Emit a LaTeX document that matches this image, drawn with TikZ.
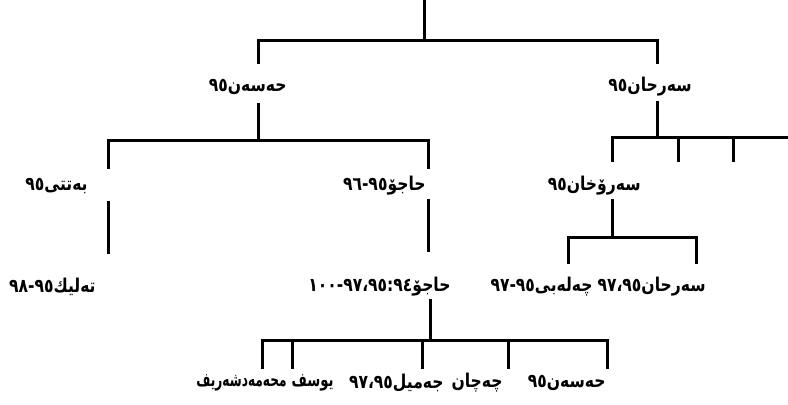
\documentclass[tikz,border=0pt]{standalone}
\usepackage{graphicx}
\usepackage{fontspec}
\TeXXeTstate=1
\newfontfamily\kfont[Script=Arabic,FakeStretch=0.82]{DejaVu Sans}
\newcommand\rl[1]{{\kfont\beginR #1\endR}}
\newcommand\nm[1]{\hbox{#1}}
\begin{document}
\begin{tikzpicture}[x=0.5pt,y=-0.5pt,
  tree/.style={line width=1.5pt, line cap=rect},
  lbl/.style={anchor=east, inner sep=0pt, font=\kfont\bfseries\fontsize{9.5}{11}\selectfont}]
\useasboundingbox (0,0) rectangle (788,404);
% labels
\node[lbl] (hasan)   at (287,87)  {\rl{حەسەن\nm{٩٥}}};
\node[lbl] (serhan)  at (692,87)  {\rl{سەرحان\nm{٩٥}}};
\node[lbl] (betti)   at (88,186)  {\rl{بەتتی\nm{٩٥}}};
\node[lbl] (hajo)    at (426,186) {\rl{حاجۆ\nm{٩٥}\nm{-}\nm{٩٦}}};
\node[lbl] (serokh)  at (641,186) {\rl{سەرۆخان\nm{٩٥}}};
\node[lbl] (telik)   at (96,287)  {\rl{تەلیك\nm{٩٥}\nm{-}\nm{٩٨}}};
\node[lbl] (hajob)   at (451,287) {\rl{حاجۆ\nm{٩٤}\nm{:}\nm{٩٥}\nm{،}\nm{٩٧}\nm{-}\nm{١٠٠}}};
\node[lbl] (celebi)  at (593,287) {\rl{چەلەبی\nm{٩٥}\nm{-}\nm{٩٧}}};
\node[lbl] (serhanb) at (706,287) {\rl{سەرحان\nm{٩٥}\nm{،}\nm{٩٧}}};
\node[lbl] (mhmd)    at (287,383) {\scalebox{0.78}[1]{\rl{محەمەدشەریف}}};
\node[lbl] (yusif)   at (334,383) {\scalebox{0.85}[1]{\rl{یوسف}}};
\node[lbl] (jemil)   at (444,383) {\rl{جەمیل\nm{٩٥}\nm{،}\nm{٩٧}}};
\node[lbl] (cecan)   at (503,383) {\rl{چەچان}};
\node[lbl] (hasanb)  at (606,383) {\rl{حەسەن\nm{٩٥}}};
% junctions
\coordinate (top) at (424,0);
\coordinate (r0) at (424,40);
\coordinate (r0a) at (258,40);
\coordinate (r0b) at (657,40);
\coordinate (r0ae) at (258,62);
\coordinate (r0be) at (657,62);
\draw[tree] (top) -- (r0);
\draw[tree] (r0a) -- (r0b);
\draw[tree] (r0a) -- (r0ae);
\draw[tree] (r0b) -- (r0be);
% left group
\coordinate (l1s) at (258,104);
\coordinate (l1) at (258,140);
\coordinate (l1a) at (108,140);
\coordinate (l1b) at (428,140);
\coordinate (l1ae) at (108,167);
\coordinate (l1be) at (428,167);
\draw[tree] (l1s) -- (l1);
\draw[tree] (l1a) -- (l1b);
\draw[tree] (l1a) -- (l1ae);
\draw[tree] (l1b) -- (l1be);
% right group
\coordinate (q1s) at (657,102);
\coordinate (q1) at (657,137);
\coordinate (q1a) at (612,137);
\coordinate (q1z) at (788,137);
\coordinate (q1b) at (678,137);
\coordinate (q1c) at (733,137);
\coordinate (q1ae) at (612,160);
\coordinate (q1be) at (678,160);
\coordinate (q1ce) at (733,160);
\draw[tree] (q1s) -- (q1);
\draw[tree] (q1a) -- (q1z);
\draw[tree] (q1a) -- (q1ae);
\draw[tree] (q1b) -- (q1be);
\draw[tree] (q1c) -- (q1ce);
% betti -> telik
\coordinate (bt1) at (108,202);
\coordinate (bt2) at (108,252);
\draw[tree] (bt1) -- (bt2);
% hajo -> hajob
\coordinate (hj1) at (428,200);
\coordinate (hj2) at (428,250);
\draw[tree] (hj1) -- (hj2);
% serokhan
\coordinate (sk1) at (612,200);
\coordinate (sk) at (612,237);
\coordinate (ska) at (568,237);
\coordinate (skb) at (696,237);
\coordinate (skae) at (568,262);
\coordinate (skbe) at (696,262);
\draw[tree] (sk1) -- (sk);
\draw[tree] (ska) -- (skb);
\draw[tree] (ska) -- (skae);
\draw[tree] (skb) -- (skbe);
% hajob children
\coordinate (hb1) at (430,300);
\coordinate (hb) at (430,340);
\coordinate (hba) at (262,340);
\coordinate (hbe) at (607,340);
\draw[tree] (hb1) -- (hb);
\draw[tree] (hba) -- (hbe);
\foreach \xx in {262,292,422,508,607}
  \draw[tree] (\xx,340) -- (\xx,367);
\end{tikzpicture}
\end{document}
